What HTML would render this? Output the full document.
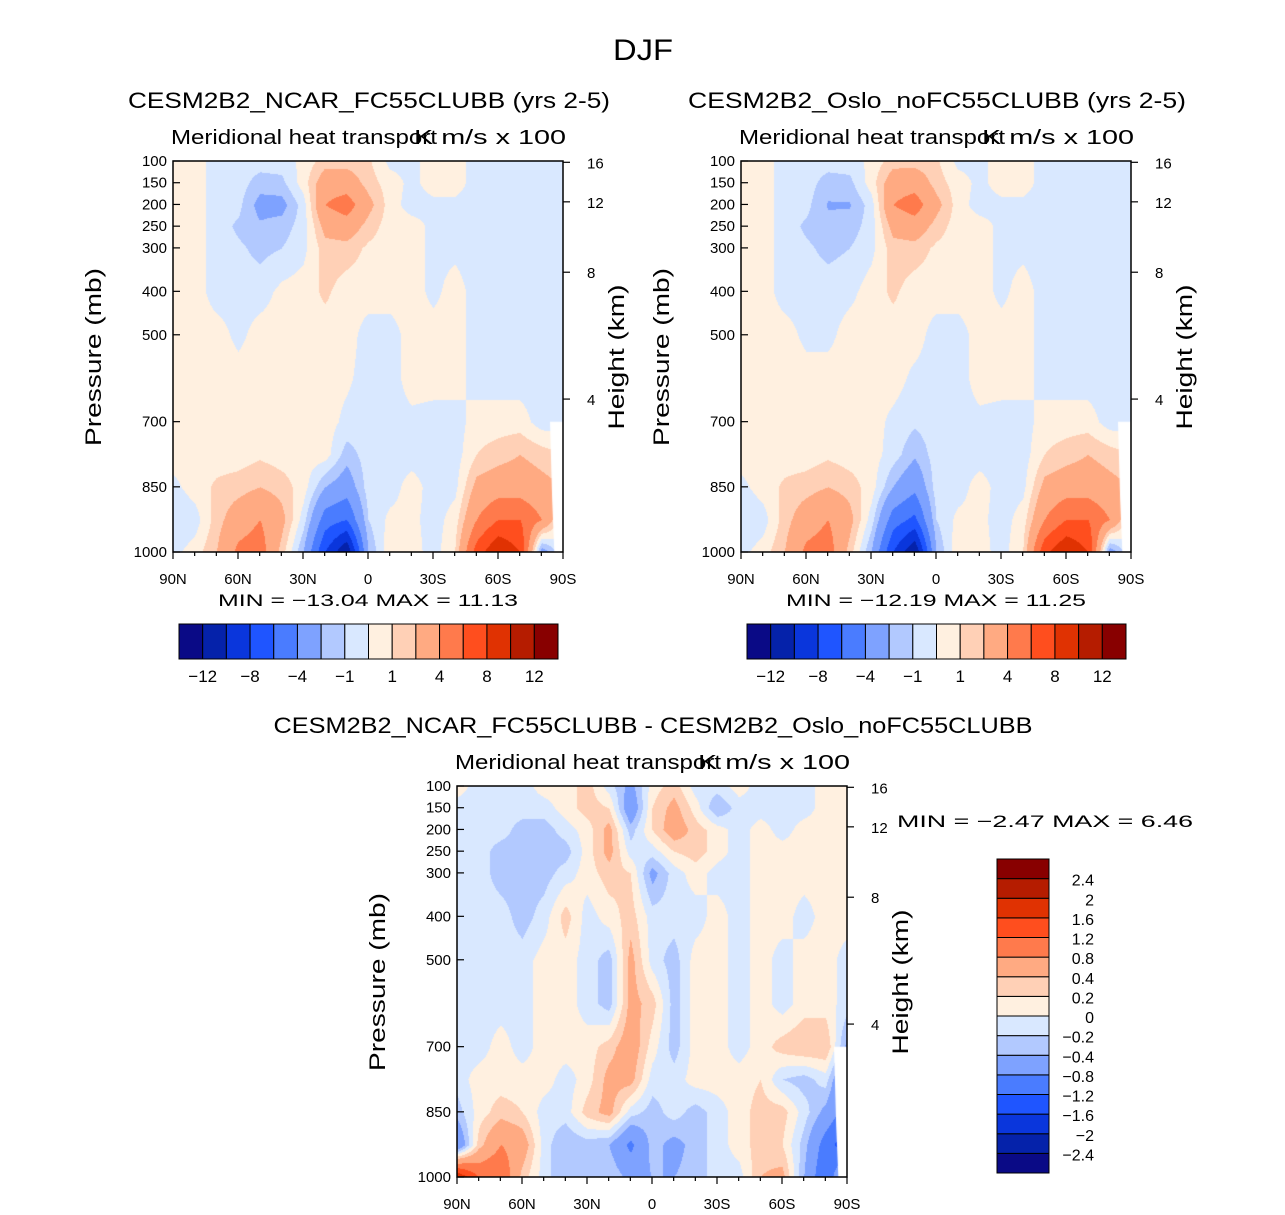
<!DOCTYPE html>
<html><head><meta charset="utf-8">
<style>
body{margin:0;background:#fff;}
#wrap{position:relative;width:1285px;height:1215px;overflow:hidden;font-family:"Liberation Sans",sans-serif;}
canvas{position:absolute;}
svg{position:absolute;left:0;top:0;}
text{font-family:"Liberation Sans",sans-serif;fill:#000;}
</style></head>
<body>
<div id="wrap">
<canvas id="c1" width="390" height="391" style="left:173px;top:161px"></canvas>
<canvas id="c2" width="390" height="391" style="left:741px;top:161px"></canvas>
<canvas id="c3" width="390" height="391" style="left:457px;top:786px"></canvas>
<svg id="ov" width="1285" height="1215"></svg>
</div>
<script>
const lats=[90,80,70,60,50,40,30,20,10,0,-10,-20,-30,-40,-50,-60,-70,-80,-90];
const pres=[100,150,200,250,300,400,500,600,700,775,850,925,1000];
const latLabels=["90N","60N","30N","0","30S","60S","90S"];
const latTicks=[90,60,30,0,-30,-60,-90];
const presTicks=[100,150,200,250,300,400,500,700,850,1000];
const hgtTicks=[16,12,8,4];
const hgtPres=[103,194,356,648];
const levelsA=[-12,-10,-8,-6,-4,-2,-1,0,1,2,4,6,8,10,12];
const levelsB=[-2.4,-2,-1.6,-1.2,-0.8,-0.4,-0.2,0,0.2,0.4,0.8,1.2,1.6,2,2.4];
const cbLabelsA=[-12,-8,-4,-1,1,4,8,12];
const colors=["#0a0a86","#0522aa","#0a36dc","#1f55ff","#4a7cff","#7ea2ff","#b2c9ff","#d9e8ff","#fff0e0","#ffd0b6","#ffaa82","#ff7a4c","#ff4e1e","#e03202","#b51c00","#880000"];
const field1=[
[0.5,0.5,-0.5,-0.5,-0.5,-0.5,0.3,1.5,1.5,1.2,-0.3,-0.3,0.5,0.5,-0.5,-0.5,-0.5,-0.5,-0.5],
[0.5,0.5,-0.5,-0.5,-1.5,-1.3,0.5,3,3,1.5,0.5,-0.3,0.5,0.5,-0.5,-0.5,-0.5,-0.5,-0.5],
[0.5,0.5,-0.5,-0.7,-2.5,-2.5,-0.5,4,5,2.5,0.5,-0.5,-0.3,-0.3,-0.5,-0.5,-0.5,-0.5,-0.5],
[0.5,0.5,-0.5,-1.2,-1.8,-1.5,-0.5,2.5,3,1.5,0.5,0.5,-0.3,-0.3,-0.5,-0.5,-0.5,-0.5,-0.5],
[0.5,0.5,-0.5,-0.8,-1.3,-1,-0.3,1.5,1.5,0.8,0.5,0.5,-0.3,-0.3,-0.5,-0.5,-0.5,-0.5,-0.5],
[0.5,0.5,-0.5,-0.5,-0.5,0.3,0.5,1.2,0.5,0.5,0.5,0.5,-0.3,0.5,-0.5,-0.5,-0.5,-0.5,-0.5],
[0.5,0.5,0.5,-0.3,0.5,0.5,0.5,0.5,0.5,-0.5,-0.5,0.5,0.5,0.5,-0.5,-0.5,-0.5,-0.5,-0.5],
[0.5,0.5,0.5,0.5,0.5,0.5,0.5,0.5,0.2,-0.5,-0.5,0.5,0.5,0.5,-0.5,-0.5,-0.5,-0.5,-0.5],
[0.5,0.5,0.5,0.5,0.5,0.5,0.5,0.5,-0.3,-0.5,-0.5,-0.3,-0.5,-0.5,0.5,0.5,0.5,-0.5,-0.5],
[0.5,0.5,0.5,0.5,0.8,0.5,0.5,0.5,-1.5,-0.5,-0.5,-0.5,-0.5,-0.5,1,1.5,2,1.5,1],
[-0.3,0.5,1.2,1.5,2,1.5,0.5,-2,-3,-0.5,-0.5,0.5,-0.5,-0.3,2.5,3,3,2.5,2],
[-1,-0.5,1.5,3,4,2.5,-0.5,-5,-6,-1,0.3,0.3,-0.5,0.5,4,6,6,4,0],
[-0.3,0.5,2,4.5,5,1.5,-2,-8,-12,-2,0.8,0.5,-0.5,1,7,10,8,-3,0]];
const field2=[
[0.5,0.5,-0.5,-0.5,-0.5,-0.5,0.3,1.5,1.5,1.2,-0.3,-0.3,0.5,0.5,-0.5,-0.5,-0.5,-0.5,-0.5],
[0.5,0.5,-0.5,-0.5,-1.5,-1.3,0.5,3,3.2,1.5,0.5,-0.3,0.5,0.5,-0.5,-0.5,-0.5,-0.5,-0.5],
[0.5,0.5,-0.5,-0.7,-2.1,-2.1,-0.5,4,5,2.5,0.5,-0.5,-0.3,-0.3,-0.5,-0.5,-0.5,-0.5,-0.5],
[0.5,0.5,-0.5,-1.2,-1.7,-1.5,-0.5,2.5,3,1.5,0.5,0.5,-0.3,-0.3,-0.5,-0.5,-0.5,-0.5,-0.5],
[0.5,0.5,-0.5,-0.8,-1.3,-1,-0.3,1.5,1.5,0.8,0.5,0.5,-0.3,-0.3,-0.5,-0.5,-0.5,-0.5,-0.5],
[0.5,0.5,-0.5,-0.5,-0.5,-0.3,0.5,1.2,0.5,0.5,0.5,0.5,-0.3,0.5,-0.5,-0.5,-0.5,-0.5,-0.5],
[0.5,0.5,0.5,-0.3,-0.3,0.5,0.5,0.5,0.5,-0.5,-0.5,0.5,0.5,0.5,-0.5,-0.5,-0.5,-0.5,-0.5],
[0.5,0.5,0.5,0.5,0.5,0.5,0.5,0.5,-0.3,-0.5,-0.5,0.5,0.5,0.5,-0.5,-0.5,-0.5,-0.5,-0.5],
[0.5,0.5,0.5,0.5,0.5,0.5,0.5,-0.3,-0.8,-0.5,-0.5,-0.3,-0.5,-0.5,0.5,0.5,0.5,-0.5,-0.5],
[0.5,0.5,0.5,0.5,0.8,0.5,0.5,-0.5,-1.8,-0.5,-0.5,-0.5,-0.5,-0.5,1,1.5,2,1.5,1],
[-0.3,0.5,1.2,1.5,2,1.5,0.5,-2,-3.5,-0.5,-0.5,0.5,-0.5,-0.3,2.5,3,3,2.5,2],
[-1,-0.5,1.5,3,4,2.5,-0.5,-5,-6.5,-1,0.3,0.3,-0.5,0.5,4,6,6,4,0],
[-0.3,0.5,2,4.5,5,1.5,-2,-8,-12,-2,0.8,0.5,-0.5,1,7.5,10,8,-3,0]];
const field3=[
[0.1,-0.1,-0.1,-0.1,0.1,0.1,0.3,-0.1,-0.5,0.1,0.3,-0.1,-0.1,0.1,-0.1,-0.1,-0.1,0.1,0.1],
[-0.1,-0.1,-0.1,-0.1,-0.1,0.1,0.3,0.2,-0.7,0.2,0.5,0.1,-0.4,-0.1,-0.1,-0.1,-0.1,0.1,0.1],
[-0.1,-0.1,-0.1,-0.3,-0.3,-0.1,0.1,0.5,-0.3,0.2,0.6,0.3,0.1,-0.1,0.1,-0.1,0.1,0.1,0.1],
[-0.1,-0.1,-0.3,-0.3,-0.3,-0.3,0.1,0.5,-0.1,-0.1,0.2,0.3,0.1,-0.1,0.1,0.1,0.1,0.1,0.1],
[-0.1,-0.1,-0.3,-0.3,-0.3,-0.1,0.1,0.3,0.2,-0.5,-0.1,0.1,-0.1,-0.1,0.1,0.1,0.1,0.1,0.1],
[-0.1,-0.1,-0.1,-0.3,-0.1,0.3,-0.1,0.1,0.3,-0.1,-0.1,-0.1,0.1,-0.1,0.1,0.1,-0.1,0.1,0.1],
[-0.1,-0.1,-0.1,-0.1,0.1,0.1,-0.1,-0.3,0.5,-0.1,-0.3,0.1,0.1,-0.1,0.1,-0.1,0.1,0.1,-0.1],
[-0.1,-0.1,-0.1,-0.1,0.1,0.1,-0.1,-0.3,0.5,0.3,-0.3,0.1,0.1,-0.1,0.1,-0.1,0.1,0.1,-0.1],
[-0.1,-0.1,0.1,-0.1,0.1,0.1,0.1,0.3,0.6,0.1,-0.3,0.1,0.1,-0.1,0.1,0.3,0.4,0.4,-0.5],
[-0.1,0.1,0.1,0.1,0.1,-0.1,0.1,0.5,0.5,-0.1,-0.1,0.1,0.1,0.1,0.2,-0.2,-0.3,-0.1,-1],
[-0.3,0.1,0.3,0.2,-0.1,-0.1,0.3,0.5,-0.1,-0.3,-0.1,-0.3,-0.1,0.1,0.3,0.3,-0.1,-0.5,-1],
[-0.8,0.3,0.8,0.6,-0.1,-0.4,-0.3,-0.4,-0.9,-0.3,-0.5,-0.3,-0.1,0.1,0.3,0.2,-0.3,-1,-1.5],
[2,1.2,1.2,0.3,-0.1,-0.4,-0.3,-0.2,-0.5,-0.4,-0.4,-0.3,-0.1,-0.1,0.4,0.5,-0.4,-1.2,0]];

const W=390,H=391;
const xOf=lat=>(90-lat)/180*W;
const yOf=p=>(p-100)/900*H;
function hex(c){return [parseInt(c.slice(1,3),16),parseInt(c.slice(3,5),16),parseInt(c.slice(5,7),16)];}
const rgb=colors.map(hex);
function sample(f,lat,p){
  let i=Math.min(17,Math.floor((90-lat)/10)); let tx=((90-lat)-i*10)/10;
  let j=0; while(j<pres.length-2&&p>pres[j+1]) j++;
  let ty=(p-pres[j])/(pres[j+1]-pres[j]);
  const a=f[j][i],b=f[j][i+1],c=f[j+1][i],d=f[j+1][i+1];
  return a*(1-tx)*(1-ty)+b*tx*(1-ty)+c*(1-tx)*ty+d*tx*ty;
}
function drawField(id,f,levels){
  const ctx=document.getElementById(id).getContext('2d');
  const img=ctx.createImageData(W,H);
  for(let y=0;y<H;y++){const p=100+y/H*900;
    for(let x=0;x<W;x++){const lat=90-x/W*180;
      const v=sample(f,lat,p); let k=0; while(k<levels.length&&v>=levels[k])k++;
      const c=rgb[k]; const o=(y*W+x)*4; img.data[o]=c[0];img.data[o+1]=c[1];img.data[o+2]=c[2];img.data[o+3]=255;}}
  ctx.putImageData(img,0,0);
  ctx.fillStyle="#fff"; ctx.beginPath();
  ctx.moveTo(xOf(-84),yOf(700));ctx.lineTo(W,yOf(700));ctx.lineTo(W,H);ctx.lineTo(xOf(-86),H);ctx.lineTo(xOf(-85),yOf(880));ctx.closePath();ctx.fill();
}
drawField('c1',field1,levelsA);drawField('c2',field2,levelsA);drawField('c3',field3,levelsB);

const NS="http://www.w3.org/2000/svg";const ov=document.getElementById('ov');
function el(tag,attrs,txt){const e=document.createElementNS(NS,tag);for(const k in attrs)e.setAttribute(k,attrs[k]);if(txt!==undefined)e.textContent=txt;ov.appendChild(e);return e;}
function txt(x,y,s,size,anchor,name,rot,len){const t=el('text',{x:x,y:y,'font-size':size,'text-anchor':anchor||'middle'},s);
  if(rot)t.setAttribute('transform','rotate(-90 '+x+' '+y+')');
  if(len){t.setAttribute('textLength',len);t.setAttribute('lengthAdjust','spacingAndGlyphs');}
  
  return t;}
function axes(ox,oy,pre){
  const r=el('rect',{x:ox,y:oy,width:W,height:H,fill:'none',stroke:'#000','stroke-width':1.5});
  
  
  presTicks.forEach(p=>{const y=oy+yOf(p);
    el('line',{x1:ox,x2:ox+7,y1:y,y2:y,stroke:'#000','stroke-width':1.2});
    txt(ox-6,y+5,String(p),15,'end','pressure-tick-label');});
  hgtTicks.forEach((h,k)=>{const y=oy+yOf(hgtPres[k]);
    el('line',{x1:ox+W,x2:ox+W+7,y1:y,y2:y,stroke:'#000','stroke-width':1.2});
    txt(ox+W+24,y+6,String(h),15,'start','height-tick-label');});
  for(let l=90;l>=-90;l-=10){const x=ox+xOf(l);el('line',{x1:x,x2:x,y1:oy+H,y2:oy+H+(l%30==0?7:4),stroke:'#000','stroke-width':1.2});}
  latTicks.forEach((l,k)=>txt(ox+xOf(l),oy+H+32,latLabels[k],15,'middle','latitude-tick-label'));
  txt(ox-72,oy+196,'Pressure (mb)',22,'middle','y-axis-title',true,178);
  txt(ox+W+61,oy+196,'Height (km)',22,'middle','right-axis-title',true,145);
  txt(ox-2,oy-17,'Meridional heat transport',20,'start','plot-subtitle',false,266);
  txt(ox+W+3,oy-17,'K m/s x 100',20,'end','units-label',false,152);
}
txt(643,60,'DJF',30,'middle','figure-title',false,60);
txt(369,108,'CESM2B2_NCAR_FC55CLUBB (yrs 2-5)',22,'middle','panel-title-ncar',false,482);
txt(937,108,'CESM2B2_Oslo_noFC55CLUBB (yrs 2-5)',22,'middle','panel-title-oslo',false,498);
txt(653,733,'CESM2B2_NCAR_FC55CLUBB - CESM2B2_Oslo_noFC55CLUBB',22,'middle','panel-title-diff',false,759);
axes(173,161,'ncar');axes(741,161,'oslo');axes(457,786,'diff');
txt(368,606,'MIN = \u221213.04   MAX =   11.13',17,'middle','minmax-ncar',false,300);
txt(936,606,'MIN = \u221212.19   MAX =   11.25',17,'middle','minmax-oslo',false,300);
txt(897,827,'MIN =   \u22122.47   MAX =    6.46',17,'start','minmax-diff',false,296);
function hbar(x0,name){const w=379/16;
  colors.forEach((c,k)=>{const r=el('rect',{x:x0+k*w,y:624,width:w,height:35,fill:c,stroke:'#000','stroke-width':1});
    
    });
  cbLabelsA.forEach(v=>{const k=levelsA.indexOf(v)+1;txt(x0+k*w,682,(v<0?'\u2212':'')+Math.abs(v),17,'middle',name+'-label');});}
hbar(179,'colorbar-ncar');hbar(747,'colorbar-oslo');
const hh=314/16;
colors.forEach((c,k)=>{const r=el('rect',{x:997,y:859+(15-k)*hh,width:52,height:hh,fill:c,stroke:'#000','stroke-width':1});
  
  });
levelsB.forEach((v,k)=>{const y=859+(15-k)*hh;txt(1094,y+7,(v<0?'\u2212':'')+Math.abs(v),16,'end','colorbar-diff-label');});
</script>
</body></html>
